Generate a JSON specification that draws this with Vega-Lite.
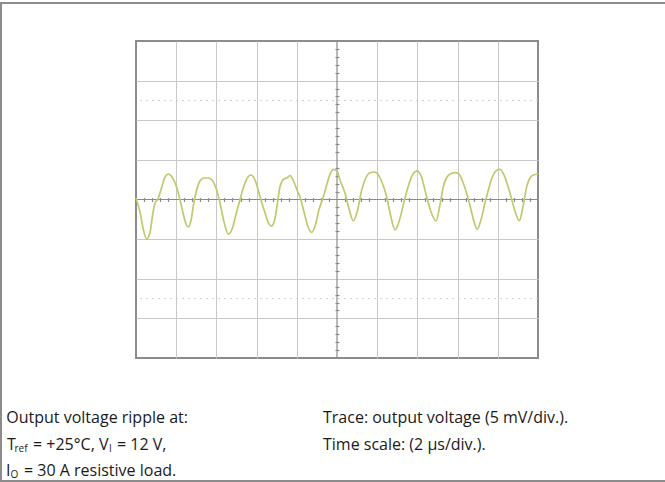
{
  "$schema": "https://vega.github.io/schema/vega-lite/v6.json",
  "width": 402,
  "height": 317,
  "autosize": "none",
  "padding": {"left": 136, "top": 41, "right": 127, "bottom": 124},
  "background": "white",
  "config": {"view": {"stroke": "#8c8c8c", "strokeWidth": 2}, "font": "Open Sans"},
  "datasets": {
    "trace": [
      {"t": 0.00, "v": 0.19}, {"t": 0.20, "v": -1.58}, {"t": 0.37, "v": -3.85}, {"t": 0.53, "v": -4.99},
      {"t": 0.70, "v": -4.10}, {"t": 0.85, "v": -1.58}, {"t": 0.95, "v": -0.44}, {"t": 1.09, "v": 0.06},
      {"t": 1.24, "v": 1.20}, {"t": 1.42, "v": 2.71}, {"t": 1.61, "v": 3.22}, {"t": 1.79, "v": 2.84},
      {"t": 2.02, "v": 1.58}, {"t": 2.19, "v": -0.06}, {"t": 2.34, "v": -1.70}, {"t": 2.49, "v": -3.09},
      {"t": 2.60, "v": -3.47}, {"t": 2.74, "v": -2.59}, {"t": 2.86, "v": -0.69}, {"t": 3.02, "v": 1.20},
      {"t": 3.18, "v": 2.34}, {"t": 3.38, "v": 2.71}, {"t": 3.60, "v": 2.71}, {"t": 3.78, "v": 2.46},
      {"t": 3.98, "v": 1.45}, {"t": 4.18, "v": -0.44}, {"t": 4.38, "v": -2.84}, {"t": 4.59, "v": -4.36},
      {"t": 4.78, "v": -3.72}, {"t": 4.98, "v": -1.83}, {"t": 5.17, "v": -0.06}, {"t": 5.37, "v": 1.70},
      {"t": 5.57, "v": 2.84}, {"t": 5.72, "v": 3.09}, {"t": 5.92, "v": 2.46}, {"t": 6.17, "v": 0.35},
      {"t": 6.42, "v": -1.70}, {"t": 6.59, "v": -2.97}, {"t": 6.75, "v": -3.35}, {"t": 6.92, "v": -2.34},
      {"t": 7.06, "v": -0.06}, {"t": 7.16, "v": 1.58}, {"t": 7.36, "v": 2.59}, {"t": 7.51, "v": 2.71},
      {"t": 7.66, "v": 3.01}, {"t": 7.86, "v": 2.21}, {"t": 8.01, "v": 1.20}, {"t": 8.16, "v": 0.32},
      {"t": 8.36, "v": -1.58}, {"t": 8.56, "v": -3.47}, {"t": 8.74, "v": -4.14}, {"t": 8.91, "v": -3.35},
      {"t": 9.10, "v": -1.33}, {"t": 9.32, "v": 0.35}, {"t": 9.50, "v": 1.96}, {"t": 9.68, "v": 3.35},
      {"t": 9.82, "v": 3.81}, {"t": 9.99, "v": 3.60}, {"t": 10.15, "v": 2.46}, {"t": 10.40, "v": 0.78},
      {"t": 10.60, "v": -1.20}, {"t": 10.81, "v": -2.68}, {"t": 11.00, "v": -1.58}, {"t": 11.23, "v": 1.20},
      {"t": 11.39, "v": 2.46}, {"t": 11.64, "v": 3.38}, {"t": 11.84, "v": 3.47}, {"t": 11.98, "v": 3.35},
      {"t": 12.19, "v": 2.46}, {"t": 12.47, "v": 0.35}, {"t": 12.64, "v": -1.70}, {"t": 12.89, "v": -3.85},
      {"t": 13.08, "v": -2.84}, {"t": 13.38, "v": 0.15}, {"t": 13.58, "v": 1.96}, {"t": 13.78, "v": 3.22},
      {"t": 13.99, "v": 3.60}, {"t": 14.18, "v": 2.97}, {"t": 14.46, "v": 0.35}, {"t": 14.68, "v": -1.58},
      {"t": 14.93, "v": -2.71}, {"t": 15.12, "v": -0.69}, {"t": 15.29, "v": 1.62}, {"t": 15.47, "v": 2.84},
      {"t": 15.71, "v": 3.31}, {"t": 15.87, "v": 3.38}, {"t": 16.03, "v": 3.31}, {"t": 16.22, "v": 2.46},
      {"t": 16.45, "v": 0.78}, {"t": 16.67, "v": -1.33}, {"t": 16.82, "v": -2.84}, {"t": 16.98, "v": -3.76},
      {"t": 17.16, "v": -2.59}, {"t": 17.36, "v": -0.44}, {"t": 17.53, "v": 1.20}, {"t": 17.71, "v": 2.71},
      {"t": 17.91, "v": 3.60}, {"t": 18.11, "v": 3.81}, {"t": 18.31, "v": 3.09}, {"t": 18.61, "v": 0.78},
      {"t": 18.81, "v": -1.07}, {"t": 19.07, "v": -2.68}, {"t": 19.25, "v": -0.95}, {"t": 19.44, "v": 1.62},
      {"t": 19.60, "v": 2.71}, {"t": 19.77, "v": 3.09}, {"t": 20.00, "v": 3.22}
    ],
    "caption": [
      {"t": -6.453, "v": -28.20, "text": "Output voltage ripple at:"},
      {"t": -6.418, "v": -31.61, "text": "T"},
      {"t": -5.124, "v": -31.61, "text": "= +25°C, V"},
      {"t": -0.945, "v": -31.61, "text": "= 12 V,"},
      {"t": -6.468, "v": -34.89, "text": "I"},
      {"t": -5.572, "v": -34.89, "text": "= 30 A resistive load."},
      {"t": 9.303, "v": -28.20, "text": "Trace: output voltage (5 mV/div.)."},
      {"t": 9.303, "v": -31.61, "text": "Time scale: (2 µs/div.)."}
    ],
    "sub": [
      {"t": -6.045, "v": -31.61, "text": "ref"},
      {"t": -1.343, "v": -31.61, "text": "I"},
      {"t": -6.244, "v": -34.89, "text": "O"}
    ],
    "frame": [{"t0": -6.716, "t1": 26.6, "v0": 24.80, "v1": -35.52}],
    "marker": [{"v": 12.5}, {"v": -12.5}]
  },
  "resolve": {"axis": {"x": "independent", "y": "independent"}},
  "layer": [
    {
      "data": {"name": "frame"},
      "mark": {"type": "rect", "fill": null, "fillOpacity": 0, "stroke": "#8c8c8c", "strokeWidth": 2, "clip": false},
      "encoding": {
        "x": {"field": "t0", "type": "quantitative", "axis": null, "scale": {"domain": [0, 20], "nice": false, "zero": false}},
        "x2": {"field": "t1"},
        "y": {"field": "v0", "type": "quantitative", "axis": null, "scale": {"domain": [-20, 20], "nice": false, "zero": false}},
        "y2": {"field": "v1"}
      }
    },
    {
      "data": {"name": "marker"},
      "mark": {"type": "rule", "color": "#cfcfcf", "strokeWidth": 1, "strokeDash": [2, 4]},
      "encoding": {
        "y": {"field": "v", "type": "quantitative", "axis": null, "scale": {"domain": [-20, 20], "nice": false, "zero": false}}
      }
    },
    {
      "data": {"values": [{}]},
      "mark": {"type": "rule", "color": "#8c8c8c", "strokeWidth": 1.2},
      "encoding": {
        "x": {"datum": 10, "type": "quantitative", "scale": {"domain": [0, 20], "nice": false, "zero": false},
          "axis": {"orient": "bottom", "offset": -160.5, "values": [0.4, 0.8, 1.2, 1.6, 2.4, 2.8, 3.2, 3.6, 4.4, 4.8, 5.2, 5.6, 6.4, 6.8, 7.2, 7.6, 8.4, 8.8, 9.2, 9.6, 10.4, 10.8, 11.2, 11.6, 12.4, 12.8, 13.2, 13.6, 14.4, 14.8, 15.2, 15.6, 16.4, 16.8, 17.2, 17.6, 18.4, 18.8, 19.2, 19.6],
            "domain": false, "labels": false, "grid": false, "ticks": true, "tickSize": 4, "tickColor": "#8c8c8c", "tickWidth": 1.2, "title": null}}
      }
    },
    {
      "data": {"values": [{}]},
      "mark": {"type": "rule", "color": "#8c8c8c", "strokeWidth": 1.2},
      "encoding": {
        "y": {"datum": 0, "type": "quantitative", "scale": {"domain": [-20, 20], "nice": false, "zero": false},
          "axis": {"orient": "left", "offset": -203, "values": [-19, -18, -17, -16, -14, -13, -12, -11, -9, -8, -7, -6, -4, -3, -2, -1, 1, 2, 3, 4, 6, 7, 8, 9, 11, 12, 13, 14, 16, 17, 18, 19],
            "domain": false, "labels": false, "grid": false, "ticks": true, "tickSize": 4, "tickColor": "#8c8c8c", "tickWidth": 1.2, "title": null}}
      }
    },
    {
      "data": {"name": "trace"},
      "mark": {"type": "line", "color": "#bccb6e", "strokeWidth": 1.7, "interpolate": "monotone"},
      "encoding": {
        "x": {"field": "t", "type": "quantitative", "scale": {"domain": [0, 20], "nice": false, "zero": false},
          "axis": {"orient": "bottom", "values": [2, 4, 6, 8, 12, 14, 16, 18], "grid": true, "gridColor": "#c8c8c8", "gridWidth": 1, "domain": false, "labels": false, "ticks": false, "title": null}},
        "y": {"field": "v", "type": "quantitative", "scale": {"domain": [-20, 20], "nice": false, "zero": false},
          "axis": {"orient": "left", "values": [-15, -10, -5, 5, 10, 15], "grid": true, "gridColor": "#c8c8c8", "gridWidth": 1, "domain": false, "labels": false, "ticks": false, "title": null}}
      }
    },
    {
      "data": {"name": "caption"},
      "mark": {"type": "text", "align": "left", "baseline": "alphabetic", "fontSize": 16, "font": "Open Sans", "color": "#1a1a1a", "clip": false},
      "encoding": {
        "x": {"field": "t", "type": "quantitative", "axis": null, "scale": {"domain": [0, 20], "nice": false, "zero": false}},
        "y": {"field": "v", "type": "quantitative", "axis": null, "scale": {"domain": [-20, 20], "nice": false, "zero": false}},
        "text": {"field": "text", "type": "nominal"}
      }
    },
    {
      "data": {"name": "sub"},
      "mark": {"type": "text", "align": "left", "baseline": "alphabetic", "fontSize": 10, "dy": 2, "font": "Open Sans", "color": "#1a1a1a", "clip": false},
      "encoding": {
        "x": {"field": "t", "type": "quantitative", "axis": null, "scale": {"domain": [0, 20], "nice": false, "zero": false}},
        "y": {"field": "v", "type": "quantitative", "axis": null, "scale": {"domain": [-20, 20], "nice": false, "zero": false}},
        "text": {"field": "text", "type": "nominal"}
      }
    }
  ]
}
